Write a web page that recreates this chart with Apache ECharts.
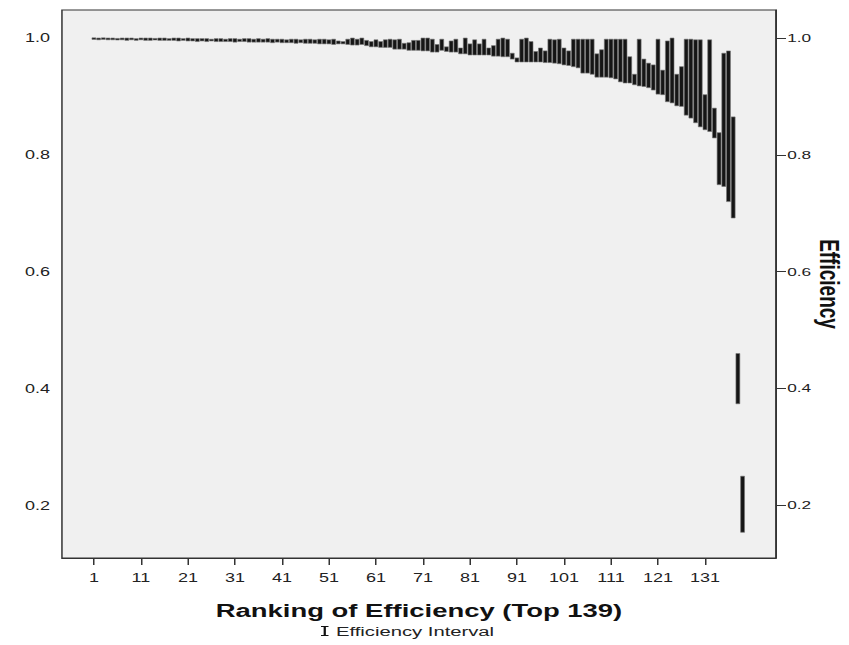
<!DOCTYPE html>
<html>
<head>
<meta charset="utf-8">
<script src="https://cdn.jsdelivr.net/npm/echarts@6/dist/echarts.min.js"></script>
<style>
html,body{margin:0;padding:0;background:#fff;}
#wrap{width:849px;height:645px;overflow:hidden;position:relative;}
/* the reference picture is horizontally stretched; reproduce that stretch */
#chart{width:566px;height:645px;transform:scaleX(1.5);transform-origin:0 0;}
</style>
</head>
<body>
<div id="wrap"><div id="chart"></div></div>
<script>
// Ranks 1..139
const ranks = [];
for (let i = 1; i <= 139; i++) ranks.push(i);

// Upper bound of the efficiency interval for each rank
const upper = [
1.000,1.000,1.000,1.000,1.000,0.999,1.000,1.000,1.000,0.999,
1.000,1.000,1.000,0.999,1.000,1.000,0.999,1.000,1.000,0.999,
1.000,0.999,0.999,0.999,0.999,0.998,0.999,0.999,0.998,0.999,
0.999,0.998,0.999,0.999,0.998,0.999,0.998,0.999,0.998,0.998,
0.998,0.997,0.998,0.998,0.997,0.998,0.998,0.997,0.998,0.998,
0.997,0.998,0.995,0.994,0.998,1.000,0.998,1.000,0.996,0.994,
0.997,0.994,0.997,0.998,0.997,0.998,0.991,0.992,0.996,0.996,
1.000,1.000,0.998,0.989,0.998,0.985,0.995,0.998,0.983,1.000,
0.990,0.997,0.990,0.998,0.983,0.987,0.998,1.000,0.998,0.974,
0.966,0.998,1.000,0.994,0.977,0.983,0.978,0.998,0.997,0.998,
0.983,0.978,0.998,0.998,0.998,0.998,0.998,0.973,0.980,0.998,
0.998,0.998,0.998,0.998,0.968,0.938,0.998,0.964,0.957,0.954,
0.998,0.945,0.995,1.000,0.938,0.951,0.998,0.998,0.997,0.997,
0.903,0.997,0.880,0.838,0.974,0.978,0.865,0.460,0.250
];

// Lower bound of the efficiency interval for each rank
const lower = [
0.998,0.997,0.998,0.997,0.997,0.997,0.997,0.996,0.997,0.996,
0.997,0.996,0.996,0.997,0.996,0.996,0.996,0.996,0.995,0.996,
0.995,0.995,0.994,0.995,0.994,0.995,0.994,0.994,0.994,0.994,
0.993,0.994,0.994,0.993,0.993,0.993,0.993,0.993,0.992,0.993,
0.992,0.992,0.992,0.991,0.992,0.991,0.991,0.991,0.990,0.990,
0.990,0.989,0.990,0.990,0.989,0.988,0.988,0.989,0.987,0.985,
0.985,0.984,0.984,0.984,0.981,0.981,0.981,0.979,0.979,0.979,
0.978,0.978,0.976,0.976,0.979,0.977,0.976,0.976,0.973,0.973,
0.971,0.971,0.971,0.971,0.971,0.969,0.969,0.968,0.968,0.964,
0.959,0.959,0.959,0.959,0.959,0.959,0.958,0.958,0.957,0.956,
0.954,0.953,0.951,0.949,0.940,0.940,0.938,0.933,0.933,0.933,
0.932,0.930,0.925,0.923,0.923,0.920,0.918,0.917,0.915,0.911,
0.904,0.903,0.891,0.889,0.884,0.883,0.868,0.863,0.855,0.848,
0.843,0.840,0.829,0.749,0.746,0.720,0.692,0.374,0.154
];

const xTicks = [1,11,21,31,41,51,61,71,81,91,101,111,121,131];
const yTicks = [0.2,0.4,0.6,0.8,1.0];

const data = ranks.map((r, i) => [r, lower[i], upper[i]]);

const chart = echarts.init(document.getElementById('chart'), null, { renderer: 'svg' });
const FONT = "'Liberation Sans', Arial, sans-serif";

chart.setOption({
  animation: false,
  backgroundColor: '#ffffff',
  textStyle: { fontFamily: FONT },
  grid: {
    left: 41.3, right: 48.7, top: 10, bottom: 87,
    outerBoundsMode: 'none',
    containLabel: false,
    show: true, backgroundColor: '#f0f0f0',
    borderColor: '#333', borderWidth: 1
  },
  legend: {
    data: ['Efficiency Interval'],
    bottom: 2,
    left: 209,
    itemWidth: 5,
    itemHeight: 11,
    itemGap: 4,
    icon: 'path://M0,0 H10 V2 H6.5 V18 H10 V20 H0 V18 H3.5 V2 H0 Z',
    textStyle: { fontSize: 13.5, color: '#222', fontFamily: FONT }
  },
  xAxis: {
    type: 'value',
    min: -5.8,
    max: 146.1,
    name: 'Ranking of Efficiency (Top 139)',
    nameLocation: 'middle',
    nameGap: 44,
    nameMoveOverlap: false,
    nameTextStyle: { fontSize: 18.3, fontWeight: 'bold', color: '#111', fontFamily: FONT },
    axisLine: { show: true, lineStyle: { color: '#333', width: 1 } },
    axisTick: { show: true, length: 7, lineStyle: { color: '#333' }, customValues: xTicks },
    axisLabel: { show: true, fontSize: 12, color: '#222', margin: 14, customValues: xTicks },
    splitLine: { show: false }
  },
  yAxis: [
    {
      type: 'value',
      position: 'left',
      min: 0.11,
      max: 1.048,
      axisLine: { show: false },
      axisTick: { show: false, customValues: yTicks },
      axisLabel: {
        fontSize: 12, color: '#222', margin: 8, customValues: yTicks,
        formatter: v => v.toFixed(1)
      },
      splitLine: { show: false }
    },
    {
      type: 'value',
      position: 'right',
      min: 0.11,
      max: 1.048,
      name: 'Efficiency',
      nameLocation: 'middle',
      nameRotate: -90,
      nameGap: 26.5,
      nameMoveOverlap: false,
      nameTextStyle: { fontSize: 19, fontWeight: 'bold', color: '#111', fontFamily: FONT },
      axisLine: { show: true, lineStyle: { color: '#333' } },
      axisTick: { show: true, length: 6.7, lineStyle: { color: '#333' }, customValues: yTicks },
      axisLabel: {
        fontSize: 11.5, color: '#222', margin: 7.5, customValues: yTicks,
        formatter: v => v.toFixed(1)
      },
      splitLine: { show: false }
    }
  ],
  series: [{
    name: 'Efficiency Interval',
    type: 'custom',
    xAxisIndex: 0,
    yAxisIndex: 0,
    itemStyle: { color: '#111' },
    encode: { x: 0, y: [1, 2] },
    data: data,
    renderItem: function (params, api) {
      const x = api.value(0);
      const lo = api.coord([x, api.value(1)]);
      const hi = api.coord([x, api.value(2)]);
      let top = Math.min(lo[1], hi[1]);
      let h = Math.abs(lo[1] - hi[1]);
      if (h < 1.6) { top -= (1.6 - h) / 2; h = 1.6; }
      return {
        type: 'rect',
        shape: { x: lo[0] - 1.3, y: top, width: 2.6, height: h },
        style: { fill: '#151515', stroke: '#777', lineWidth: 0.5 }
      };
    }
  }]
});
</script>
</body>
</html>
